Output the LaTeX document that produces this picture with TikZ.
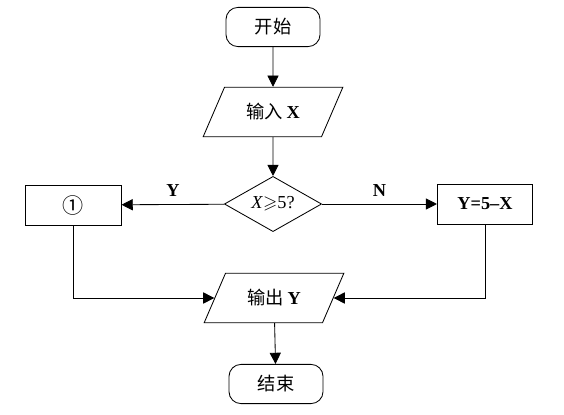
\documentclass[tikz,border=0pt]{standalone}
\usepackage{amssymb}
\usepackage{fontspec}
\setmainfont{Liberation Serif}
\newfontfamily\cjk{Noto Sans CJK SC}
\usetikzlibrary{shapes.geometric,arrows.meta}

\tikzset{
    term/.style={draw, rounded corners=0.3cm, minimum width=2.35cm, minimum height=0.98cm},
    io/.style={draw, trapezium, trapezium left angle=62, trapezium right angle=118,
        trapezium stretches=true, minimum width=3.5cm, minimum height=1.24cm},
    proc/.style={draw, minimum width=2.38cm, minimum height=1.0cm},
    cond/.style={draw, diamond, aspect=1.76, inner sep=0pt, minimum width=2.43cm, minimum height=1.38cm},
    flow/.style={-{Triangle[length=2.8mm,width=2.8mm]}}
}

\begin{document}
\begin{tikzpicture}[x=0.025cm, y=-0.025cm, line width=0.6pt, font=\fontsize{13pt}{15pt}\selectfont]
        \useasboundingbox (0, 0) rectangle (564, 414);

        \node [term] (start) at (273, 27) {\cjk 开始};
        \node [io] (in) at (273, 112) {\cjk 输入\ \textrm{\bfseries X}};
        \node [cond] (dec) at (273, 204) {\textit{X}$\geqslant$5?};
        \node [proc] (one) at (73.5, 205) {\cjk\fontsize{15pt}{15pt}\selectfont ①};
        \node [proc] (calc) at (485, 204) {\bfseries Y=5--X};
        \node [io] (out) at (274, 298) {\cjk 输出\ \textrm{\bfseries Y}};
        \node [term] (stop) at (276, 384) {\cjk 结束};

        \draw [flow] (start) -- (in);
        \draw [flow] (in) -- (dec);
        \draw [flow] (dec) -- node [above=2pt] {\bfseries Y} (one);
        \draw [flow] (dec) -- node [above=2pt] {\bfseries N} (calc);
        \draw [flow] (one.south) |- (out);
        \draw [flow] (calc.south) |- (out);
        \draw [flow] (out) -- (stop);
    \end{tikzpicture}
\end{document}
